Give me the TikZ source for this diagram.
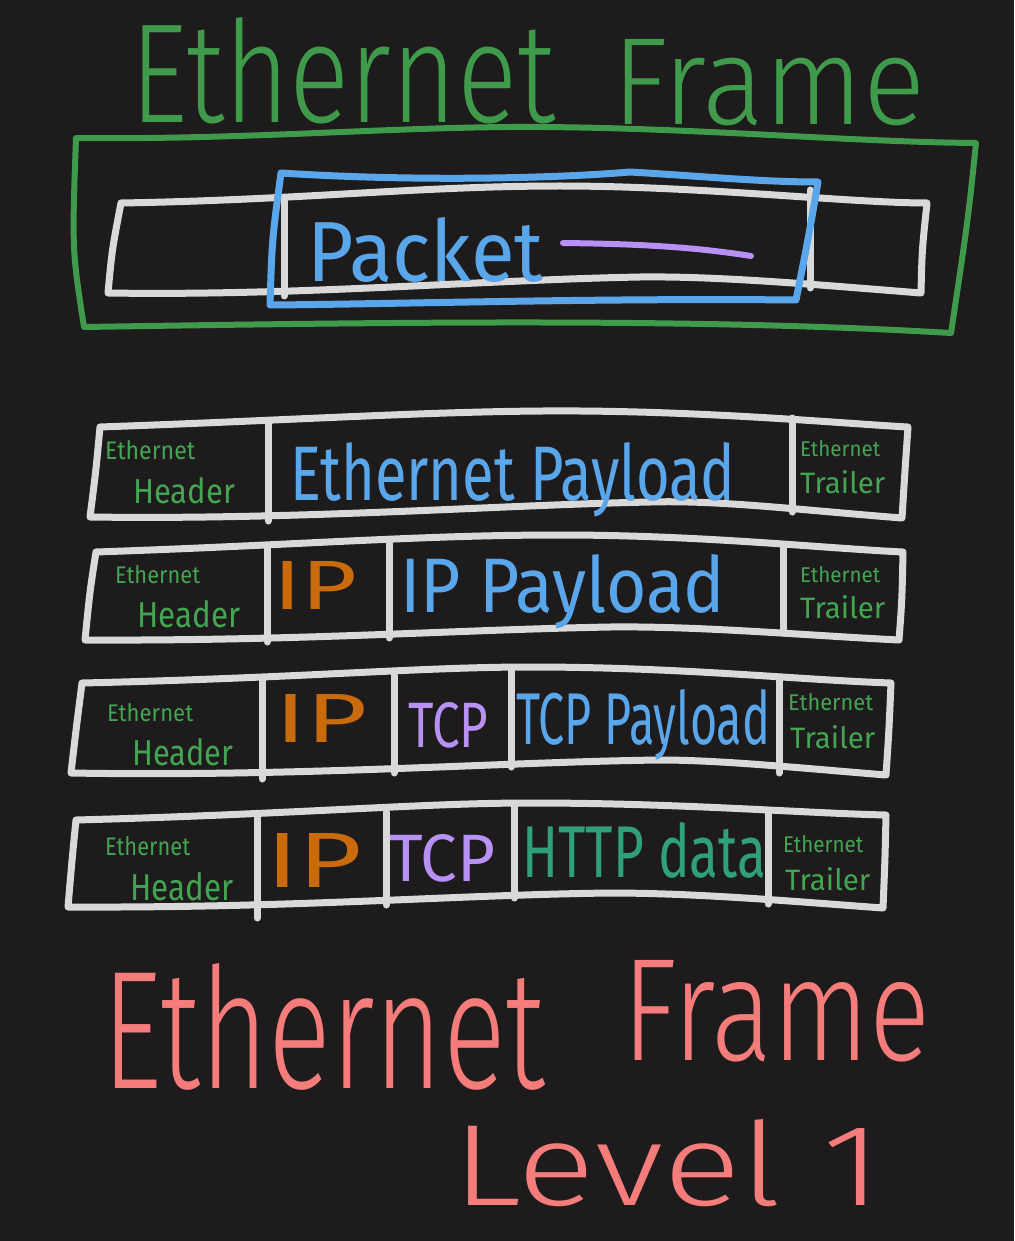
\documentclass[tikz,border=0pt]{standalone}
\usepackage{fontspec}
\setmainfont{Fira Sans Light}
\newfontfamily\handR{Fira Sans}
\usepackage{graphicx}
\definecolor{bg}{HTML}{1E1B1C}
\definecolor{wcol}{HTML}{D9D9D9}
\definecolor{gcol}{HTML}{3F9B4B}
\definecolor{gtxt}{HTML}{43A552}
\definecolor{bcol}{HTML}{5AA6EA}
\definecolor{pcol}{HTML}{B891F7}
\definecolor{ocol}{HTML}{C96A0C}
\definecolor{tcol}{HTML}{2F9F7C}
\definecolor{scol}{HTML}{F47D7B}
\newcommand{\hw}[3]{\resizebox{#1pt}{#2pt}{#3}}
\tikzset{
  wline/.style={draw=wcol, line width=7pt, line cap=round, line join=round},
  gline/.style={draw=gcol, line width=6pt, line cap=round, line join=round},
  bline/.style={draw=bcol, line width=7pt, line cap=round, line join=round},
  pline/.style={draw=pcol, line width=6pt, line cap=round},
  lbl/.style={inner sep=0pt, anchor=base west},
  rlbl/.style={inner sep=0pt, anchor=base west, font=\handR},
}
\begin{document}
\begin{tikzpicture}[x=1pt,y=-1pt]
\fill[bg] (0,0) rectangle (1014,1241);
\useasboundingbox (0,0) rectangle (1014,1241);

% ---------- top: Ethernet frame with packet ----------
\node[lbl, text=gcol] (title1) at (130,123) {\hw{425}{105}{Ethernet}};
\node[lbl, text=gcol] (title2) at (612,125) {\hw{313}{85}{Frame}};
\draw[gline] (76,138) .. controls (250,140) and (400,126) .. (540,127)
  .. controls (700,128) and (850,142) .. (976,143)
  .. controls (968,220) .. (951,333)
  .. controls (700,318) and (400,322) .. (84,327)
  .. controls (72,250) .. (76,138) -- cycle;
\draw[wline] (121,203) .. controls (300,200) and (420,186) .. (560,186)
  .. controls (700,186) and (850,203) .. (927,203)
  .. controls (922,250) .. (921,293)
  .. controls (820,285) and (720,276) .. (640,277)
  .. controls (480,280) and (300,296) .. (108,293)
  .. controls (112,250) .. (121,203) -- cycle;
\draw[wline] (284,200) -- (284,296);
\draw[wline] (810,190) -- (810,288);
\draw[bline] (281,173) .. controls (420,182) and (560,178) .. (630,172)
  .. controls (700,176) and (760,182) .. (818,182)
  .. controls (808,240) .. (796,300)
  .. controls (600,298) and (400,304) .. (270,305)
  .. controls (272,240) .. (281,173) -- cycle;
\node[rlbl, text=bcol] (packet) at (307,281) {\hw{236}{64}{Packet}};
\coordinate (pa) at (563,243);
\coordinate (pb) at (751,256);
\draw[pline] (pa) .. controls (650,244) and (700,248) .. (pb);

% ---------- row 1 ----------
\draw[wline] (100,427) .. controls (300,420) and (450,410) .. (580,411)
  .. controls (720,412) and (850,424) .. (908,427)
  .. controls (905,470) .. (902,518)
  .. controls (800,510) and (720,500) .. (650,502)
  .. controls (500,505) and (300,520) .. (90,517)
  .. controls (96,470) .. (100,427) -- cycle;
\draw[wline] (268,423) -- (268,521);
\draw[wline] (792,418) -- (792,512);
\node[rlbl, text=gtxt] (r1e) at (105,459) {\hw{90}{19}{Ethernet}};
\node[rlbl, text=gtxt] (r1h) at (133,503) {\hw{102}{26}{Header}};
\node[rlbl, text=bcol] (r1p) at (290,500) {\hw{445}{58}{Ethernet Payload}};
\node[rlbl, text=gtxt] (r1te) at (800,456) {\hw{80}{16}{Ethernet}};
\node[rlbl, text=gtxt] (r1tt) at (800,493) {\hw{85}{23}{Trailer}};

% ---------- row 2 ----------
\draw[wline] (96,552) .. controls (300,545) and (420,535) .. (560,535)
  .. controls (700,535) and (820,548) .. (903,552)
  .. controls (902,600) .. (899,640)
  .. controls (800,635) and (700,626) .. (610,627)
  .. controls (450,630) and (300,641) .. (85,640)
  .. controls (90,590) .. (96,552) -- cycle;
\draw[wline] (267,546) -- (267,642);
\draw[wline] (389,543) -- (389,638);
\draw[wline] (783,545) -- (783,633);
\node[rlbl, text=gtxt] (r2e) at (115,583) {\hw{85}{18}{Ethernet}};
\node[rlbl, text=gtxt] (r2h) at (137,627) {\hw{103}{27}{Header}};
\node[rlbl, text=ocol] (r2ip) at (273,609) {\hw{84}{48}{IP}};
\node[rlbl, text=bcol] (r2p) at (400,612) {\hw{325}{58}{IP Payload}};
\node[rlbl, text=gtxt] (r2te) at (800,582) {\hw{80}{16}{Ethernet}};
\node[rlbl, text=gtxt] (r2tt) at (800,618) {\hw{85}{23}{Trailer}};

% ---------- row 3 ----------
\draw[wline] (82,683) .. controls (300,678) and (420,667) .. (530,667)
  .. controls (680,667) and (800,680) .. (891,683)
  .. controls (889,730) .. (886,775)
  .. controls (800,768) and (720,760) .. (660,760)
  .. controls (500,762) and (300,777) .. (71,773)
  .. controls (76,730) .. (82,683) -- cycle;
\draw[wline] (262,680) -- (262,779);
\draw[wline] (394,675) -- (394,773);
\draw[wline] (511,670) -- (511,767);
\draw[wline] (779,678) -- (779,773);
\node[rlbl, text=gtxt] (r3e) at (107,721) {\hw{86}{18}{Ethernet}};
\node[rlbl, text=gtxt] (r3h) at (132,765) {\hw{101}{27}{Header}};
\node[rlbl, text=ocol] (r3ip) at (275,742) {\hw{92}{48}{IP}};
\node[rlbl, text=pcol] (r3tcp) at (408,747) {\hw{80}{45}{TCP}};
\node[rlbl, text=bcol] (r3p) at (516,744) {\hw{254}{55}{TCP Payload}};
\node[rlbl, text=gtxt] (r3te) at (788,710) {\hw{85}{17}{Ethernet}};
\node[rlbl, text=gtxt] (r3tt) at (790,748) {\hw{85}{23}{Trailer}};

% ---------- row 4 ----------
\draw[wline] (76,820) .. controls (300,814) and (420,803) .. (530,803)
  .. controls (680,803) and (800,813) .. (886,815)
  .. controls (885,860) .. (883,908)
  .. controls (800,902) and (700,893) .. (610,893)
  .. controls (450,895) and (300,908) .. (68,907)
  .. controls (72,860) .. (76,820) -- cycle;
\draw[wline] (257,818) -- (257,918);
\draw[wline] (386,812) -- (386,905);
\draw[wline] (514,806) -- (514,898);
\draw[wline] (768,812) -- (768,904);
\node[rlbl, text=gtxt] (r4e) at (105,855) {\hw{85}{19}{Ethernet}};
\node[rlbl, text=gtxt] (r4h) at (130,900) {\hw{103}{28}{Header}};
\node[rlbl, text=ocol] (r4ip) at (266,887) {\hw{96}{54}{IP}};
\node[rlbl, text=pcol] (r4tcp) at (389,881) {\hw{106}{47}{TCP}};
\node[rlbl, text=tcol] (r4http) at (522,877) {\hw{244}{55}{HTTP data}};
\node[rlbl, text=gtxt] (r4te) at (783,852) {\hw{80}{17}{Ethernet}};
\node[rlbl, text=gtxt] (r4tt) at (785,890) {\hw{85}{23}{Trailer}};

% ---------- bottom caption ----------
\node[lbl, text=scol] (cap1) at (102,1088) {\hw{443}{125}{Ethernet}};
\node[lbl, text=scol] (cap2) at (622,1060) {\hw{308}{100}{Frame}};
\node[lbl, text=scol] (cap3) at (452,1205) {\hw{430}{86}{Level 1}};
\end{tikzpicture}
\end{document}
